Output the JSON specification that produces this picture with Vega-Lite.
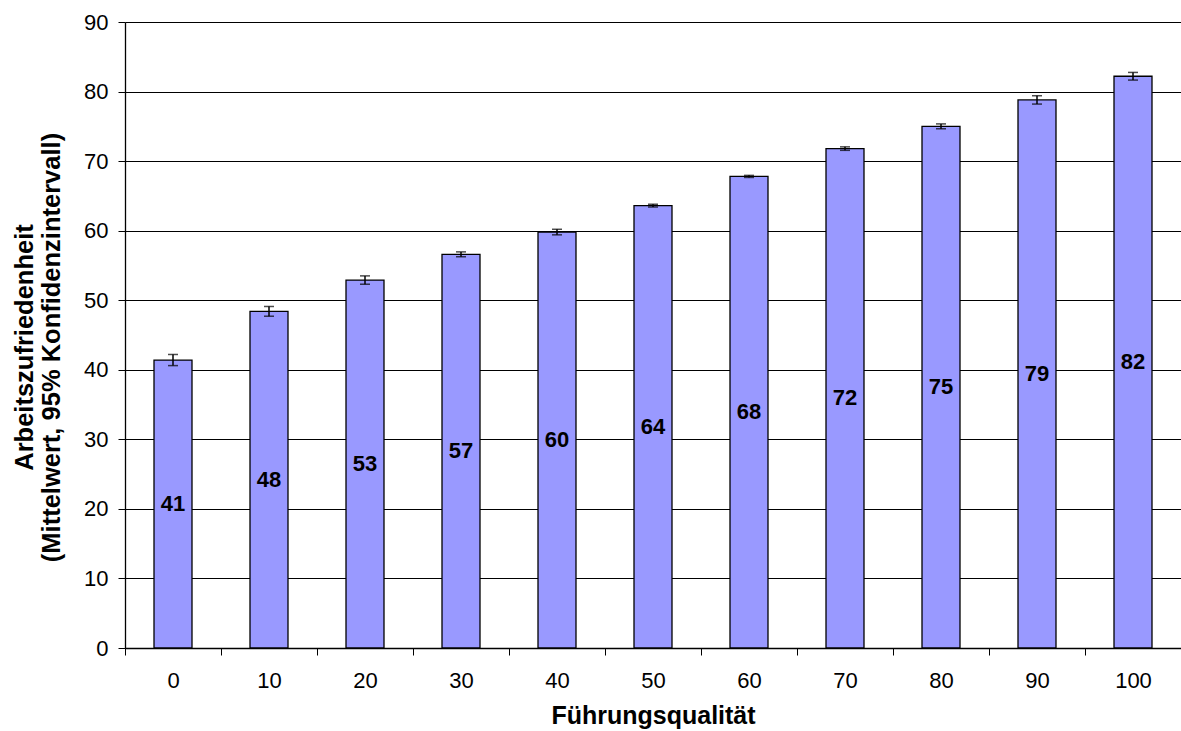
{
  "$schema": "https://vega.github.io/schema/vega-lite/v6.json",
  "width": 1056,
  "height": 626,
  "autosize": {"type": "none"},
  "padding": {"left": 125, "top": 22, "right": 0, "bottom": 83},
  "background": "white",
  "config": {
    "view": {"stroke": null},
    "font": "Liberation Sans",
    "axis": {"labelFont": "Liberation Sans", "titleFont": "Liberation Sans", "labelColor": "black", "titleColor": "black"}
  },
  "data": {
    "values": [
      {"q": 0, "v": 41.4, "lo": 40.6, "hi": 42.2},
      {"q": 10, "v": 48.4, "lo": 47.7, "hi": 49.1},
      {"q": 20, "v": 52.9, "lo": 52.3, "hi": 53.5},
      {"q": 30, "v": 56.6, "lo": 56.25, "hi": 56.95},
      {"q": 40, "v": 59.8, "lo": 59.4, "hi": 60.2},
      {"q": 50, "v": 63.6, "lo": 63.4, "hi": 63.8},
      {"q": 60, "v": 67.8, "lo": 67.65, "hi": 67.95},
      {"q": 70, "v": 71.8, "lo": 71.55, "hi": 72.05},
      {"q": 80, "v": 75.0, "lo": 74.65, "hi": 75.35},
      {"q": 90, "v": 78.8, "lo": 78.2, "hi": 79.4},
      {"q": 100, "v": 82.2, "lo": 81.65, "hi": 82.75}
    ]
  },
  "resolve": {"axis": {"x": "independent"}},
  "layer": [
    {
      "mark": {"type": "bar", "width": 38, "fill": "#9999FF", "stroke": "black", "strokeWidth": 1.3},
      "encoding": {
        "x": {"field": "q", "type": "quantitative",
          "scale": {"domain": [-5, 105], "nice": false, "zero": false, "padding": 0},
          "axis": {"orient": "bottom", "values": [0, 10, 20, 30, 40, 50, 60, 70, 80, 90, 100], "ticks": false, "domain": false, "grid": false,
            "labelFontSize": 22, "labelPadding": 22, "title": "Führungsqualität", "titleFontSize": 25, "titleFontWeight": "bold", "titlePadding": 12}},
        "y": {"field": "v", "type": "quantitative",
          "scale": {"domain": [0, 90], "nice": false, "padding": 0},
          "axis": {"values": [0, 10, 20, 30, 40, 50, 60, 70, 80, 90], "grid": true, "gridColor": "black", "gridWidth": 1, "gridOpacity": 1,
            "domainColor": "black", "domainWidth": 1.3, "tickColor": "black", "tickSize": 7, "tickWidth": 1,
            "labelFontSize": 22, "labelPadding": 10,
            "title": ["Arbeitszufriedenheit", "(Mittelwert, 95% Konfidenzintervall)"], "titleFontSize": 25.5, "titleFontWeight": "bold", "titlePadding": 19, "titleLineHeight": 27, "titleY": 325}}
      }
    },
    {
      "mark": {"type": "rule", "color": "black", "strokeWidth": 1.5},
      "encoding": {
        "x": {"field": "q", "type": "quantitative",
          "axis": {"orient": "bottom", "values": [-5, 5, 15, 25, 35, 45, 55, 65, 75, 85, 95, 105], "labels": false, "grid": false, "domainColor": "black", "domainWidth": 1.3,
            "tickColor": "black", "tickSize": 7, "tickWidth": 1, "title": null}},
        "y": {"field": "lo", "type": "quantitative"},
        "y2": {"field": "hi"}
      }
    },
    {
      "mark": {"type": "tick", "orient": "horizontal", "color": "black", "size": 10, "thickness": 1.5},
      "encoding": {
        "x": {"field": "q", "type": "quantitative", "axis": null},
        "y": {"field": "lo", "type": "quantitative"}
      }
    },
    {
      "mark": {"type": "tick", "orient": "horizontal", "color": "black", "size": 10, "thickness": 1.5},
      "encoding": {
        "x": {"field": "q", "type": "quantitative", "axis": null},
        "y": {"field": "hi", "type": "quantitative"}
      }
    },
    {
      "mark": {"type": "text", "fontSize": 22, "fontWeight": "bold", "color": "black", "baseline": "middle", "align": "center"},
      "encoding": {
        "x": {"field": "q", "type": "quantitative", "axis": null},
        "y": {"field": "v", "type": "quantitative", "stack": "zero", "bandPosition": 0.5},
        "text": {"field": "v", "type": "quantitative", "format": ".0f"}
      }
    }
  ]
}
